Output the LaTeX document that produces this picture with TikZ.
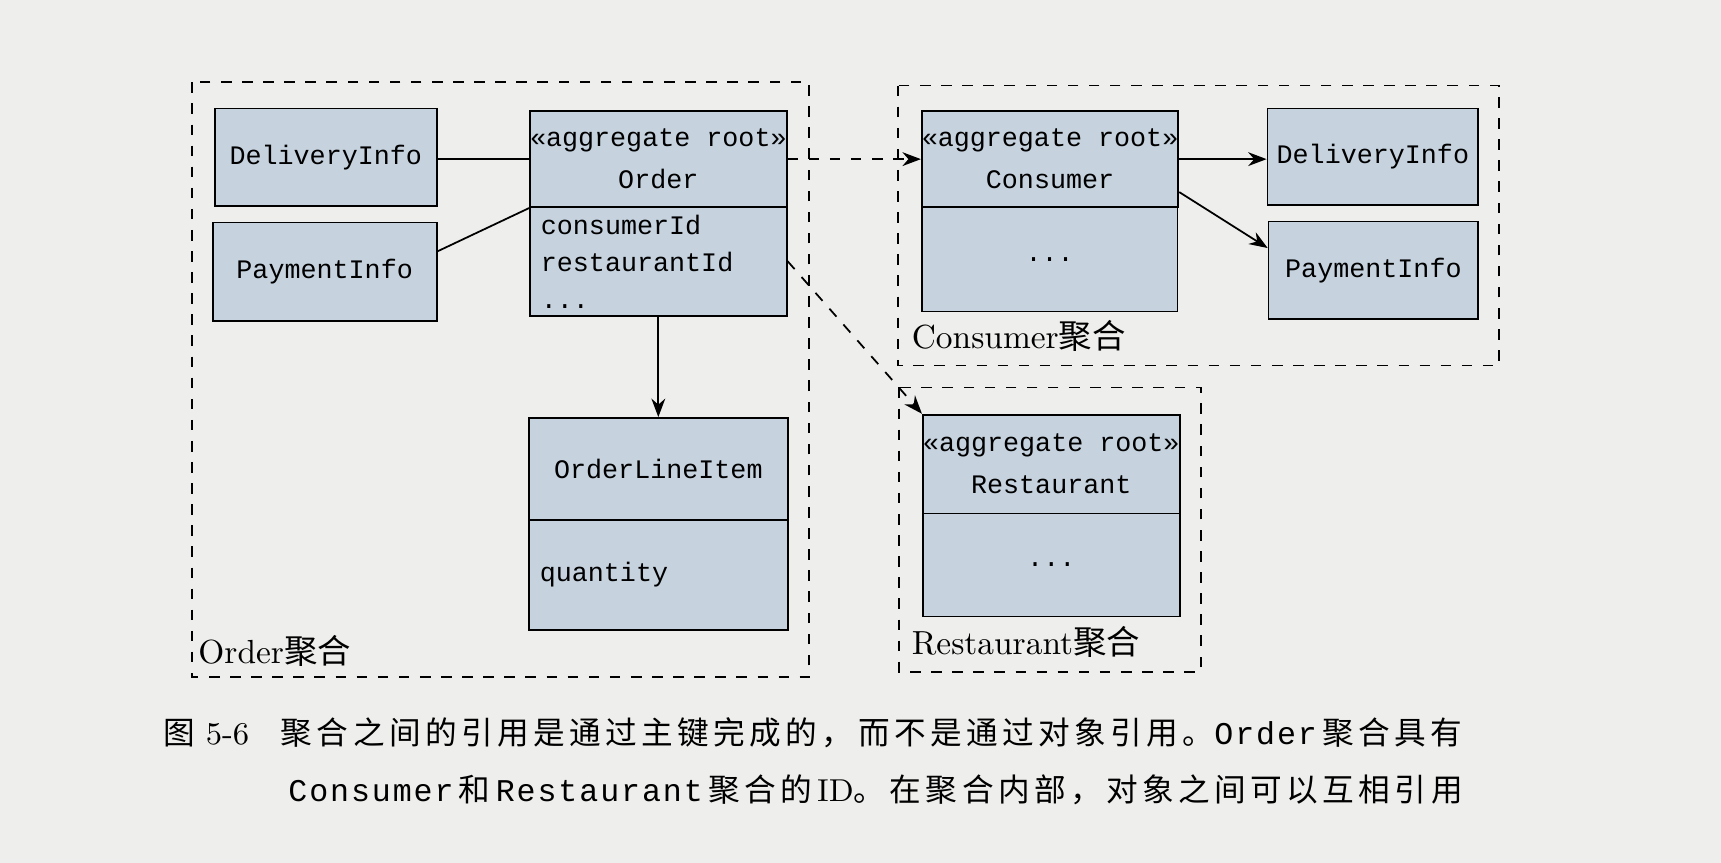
\documentclass[tikz,border=0pt]{standalone}
\usepackage{fontspec}
\setmonofont{Liberation Mono}
\newfontfamily\cjk{Noto Sans CJK SC}
\newfontfamily\cjkcap[LetterSpace=14]{Noto Sans CJK SC}
\newfontfamily\monocap[LetterSpace=6]{Liberation Mono}
\usetikzlibrary{arrows.meta}

\definecolor{boxblue}{HTML}{C6D3DF}
\definecolor{page}{HTML}{EEEEEC}
\tikzset{
  cls/.style n args={2}{draw, fill=boxblue, anchor=north west, inner sep=0pt,
    minimum width={#1*0.010976cm}, minimum height={#2*0.010976cm},
    font=\ttfamily\fontsize{7.6}{12}\selectfont, align=center},
  attrs/.style n args={2}{draw, fill=boxblue, anchor=north west, inner ysep=0pt, inner xsep={10*0.010976cm},
    text width={(#1-20)*0.010976cm}, minimum height={#2*0.010976cm},
    font=\ttfamily\fontsize{7.6}{10.5}\selectfont, align=left},
  agg/.style={draw, dashed},
  agglabel/.style={anchor=south west, inner sep=0pt, font=\fontsize{9.5}{11}\selectfont},
  caption/.style={anchor=west, inner sep=0pt, font=\fontsize{9}{11}\selectfont},
}

\begin{document}
\begin{tikzpicture}[>=Stealth, x=0.010976cm, y=-0.010976cm, line width=0.5pt]
    \fill[page] (0,0) rectangle (1568,786);
    \useasboundingbox (0,0) rectangle (1568,786);
    % aggregates
    \draw[agg] (175,75) rectangle (737,617);
    \draw[agg] (818,78) rectangle (1366,333);
    \draw[agg] (819,353) rectangle (1094,612);
    \node[agglabel] (lorder) at (180,608) {Order{\cjk 聚合}};
    \node[agglabel] (lcons) at (830,321) {Consumer{\cjk 聚合}};
    \node[agglabel] (lrest) at (830,600) {Restaurant{\cjk 聚合}};
    % Order aggregate
    \node[cls={202}{89}] (odeliv) at (195,98) {DeliveryInfo};
    \node[cls={204}{90}] (opay) at (193,202) {PaymentInfo};
    \node[cls={234}{88}] (order) at (482,100) {«aggregate root»\\Order};
    \node[attrs={234}{99}] (orderattr) at (482,188) {consumerId\\restaurantId\\...};
    \node[cls={236}{93}] (item) at (481,380) {OrderLineItem};
    \node[attrs={236}{100}] (itemattr) at (481,473) {quantity};
    % Consumer aggregate
    \node[cls={233}{88}] (consumer) at (839,100) {«aggregate root»\\Consumer};
    \node[cls={233}{95}] (consattr) at (839,188) {...};
    \node[cls={192}{88}] (cdeliv) at (1154,98) {DeliveryInfo};
    \node[cls={191}{89}] (cpay) at (1155,201) {PaymentInfo};
    % Restaurant aggregate
    \node[cls={234}{90}] (rest) at (840,377) {«aggregate root»\\Restaurant};
    \node[cls={234}{94}] (restattr) at (840,467) {...};
    % connectors
    \draw (odeliv.east |- 0,145) -- (order.west |- 0,145);
    \draw (opay.east |- 0,229) -- (order.south west);
    \draw[->] (orderattr.north |- orderattr.south) -- (item.north -| orderattr.south);
    \draw[->, dashed] (order.east |- 0,145) -- (consumer.west |- 0,145);
    \draw[->, dashed] (orderattr.east |- 0,238) -- (rest.north west);
    \draw[->] (consumer.east |- 0,145) -- (cdeliv.west |- 0,145);
    \draw[->] (consumer.east |- 0,175) -- (cpay.west |- 0,226);
    % caption
    \node[caption] (cap1) at (148,668) {{\cjkcap 图} 5-6\quad{\cjkcap 聚合之间的引用是通过主键完成的，而不是通过对象引用。}{\monocap Order}\,{\cjkcap 聚合具有}};
    \node[caption] (cap2) at (262,720) {{\monocap Consumer}\,{\cjkcap 和}\,{\monocap Restaurant}\,{\cjkcap 聚合的}\,ID{\cjkcap 。在聚合内部，对象之间可以互相引用}};
\end{tikzpicture}
\end{document}
